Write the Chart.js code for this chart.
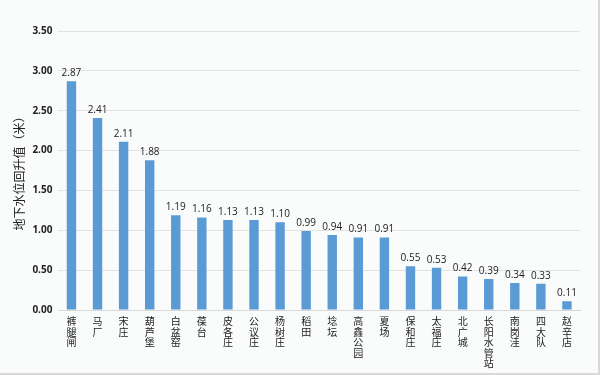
<!DOCTYPE html>
<html>
<head>
<meta charset="utf-8">
<script src="https://cdn.jsdelivr.net/npm/chart.js@4/dist/chart.umd.min.js"></script>
<style>
  html, body { margin: 0; padding: 0; background: #ffffff; }
  #wrap { position: relative; width: 598px; height: 373px; background: #fafbfb; border-right: 2px solid #d9d9d9; border-bottom: 2px solid #d9d9d9; }
  canvas { display: block; }
</style>
</head>
<body>
<div id="wrap"><canvas id="chart" width="598" height="373"></canvas></div>
<script>
// 站点名称
const stations = ['裤腿闸', '马厂', '宋庄', '葫芦堡', '白盆窑', '葆台', '皮各庄', '公议庄', '杨树庄', '稻田',
  '埝坛', '高鑫公园', '夏场', '保和庄', '太福庄', '北广城', '长阳水管站', '南岗洼', '四大队', '赵辛店'];

// 地下水位回升值（米）
const riseValues = [2.87, 2.41, 2.11, 1.88, 1.19, 1.16, 1.13, 1.13, 1.10, 0.99,
  0.94, 0.91, 0.91, 0.55, 0.53, 0.42, 0.39, 0.34, 0.33, 0.11];

const yTicks = [0, 0.5, 1, 1.5, 2, 2.5, 3, 3.5];

// 数值标签插件
const valueLabels = {
  id: 'valueLabels',
  afterDatasetsDraw(chart) {
    const ctx = chart.ctx;
    const meta = chart.getDatasetMeta(0);
    ctx.save();
    ctx.font = '10px "Open Sans", sans-serif';
    ctx.fillStyle = '#222';
    ctx.textAlign = 'center';
    ctx.textBaseline = 'bottom';
    meta.data.forEach((bar, i) => {
      ctx.fillText(riseValues[i].toFixed(2), bar.x, bar.y - 3);
    });
    ctx.restore();
  }
};

new Chart(document.getElementById('chart'), {
  type: 'bar',
  data: {
    // 竖排文字：每个字一行
    labels: stations.map(s => s.split('')),
    datasets: [{
      data: riseValues,
      backgroundColor: '#5b9bd5',
      borderWidth: 0,
      barPercentage: 0.36,
      categoryPercentage: 1
    }]
  },
  options: {
    responsive: false,
    animation: false,
    layout: { padding: { top: 31, right: 18, left: 12, bottom: 0 } },
    plugins: {
      legend: { display: false },
      tooltip: { enabled: false }
    },
    scales: {
      x: {
        grid: { display: false, drawTicks: false },
        border: { color: '#d9d9d9' },
        ticks: {
          color: '#222',
          font: { family: '"Noto Sans CJK SC"', size: 10, lineHeight: 1.05 },
          maxRotation: 0,
          autoSkip: false,
          padding: 6
        },
        afterFit(scale) { scale.height = 63; }
      },
      y: {
        min: 0,
        max: 3.5,
        afterBuildTicks(scale) { scale.ticks = yTicks.map(v => ({ value: v })); },
        grid: { color: '#e3e3e3', drawTicks: false },
        border: { display: false },
        ticks: {
          color: '#222',
          font: { family: '"Open Sans", sans-serif', size: 10, weight: 'bold' },
          padding: 6,
          callback: v => v.toFixed(2)
        },
        title: {
          display: true,
          text: '地下水位回升值（米）',
          color: '#222',
          font: { family: '"Noto Sans CJK SC"', size: 12 },
          padding: { top: 0, bottom: 0 }
        }
      }
    }
  },
  plugins: [valueLabels]
});
</script>
</body>
</html>
